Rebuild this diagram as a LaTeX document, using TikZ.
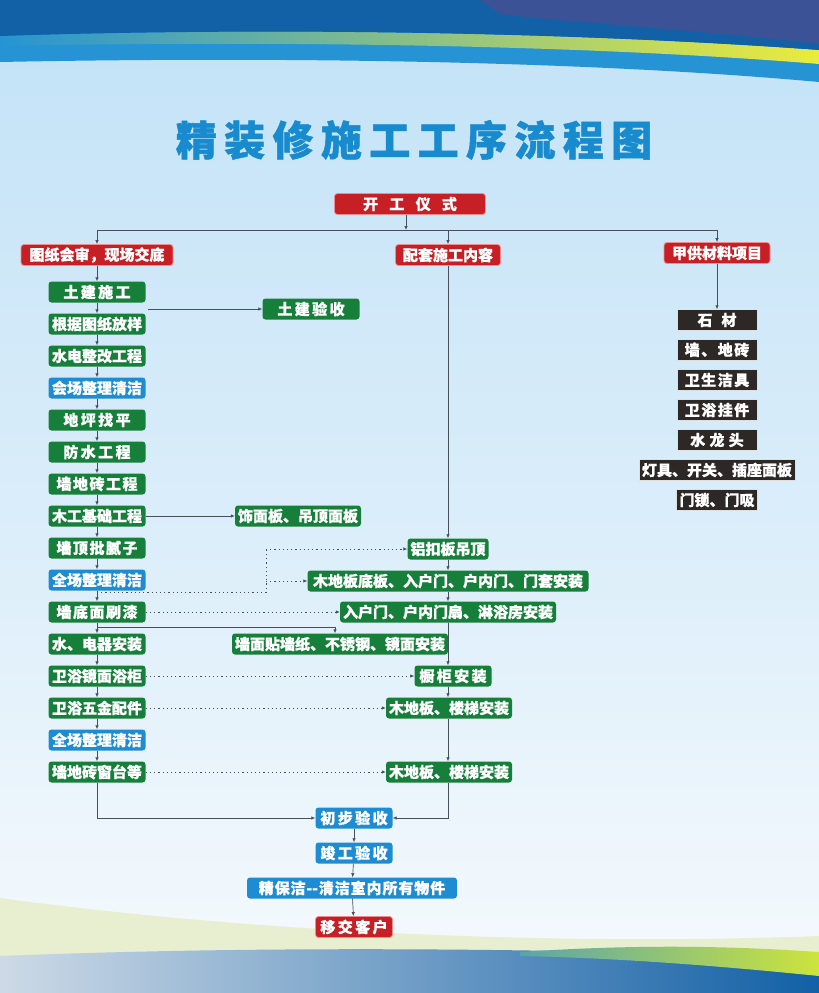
\documentclass[tikz,border=0pt]{standalone}
\usepackage{fontspec}
\newfontfamily\cjk{Noto Sans CJK SC}[BoldFeatures={FakeBold=0.8}]
\newfontfamily\cjktitle{Noto Sans CJK SC}[BoldFeatures={FakeBold=1.2}]
\usepackage{tikz}
\usetikzlibrary{arrows.meta, positioning}

\definecolor{bgblue}{RGB}{194,226,247}
\definecolor{bgwhite}{RGB}{246,250,253}
\definecolor{bandblue}{RGB}{38,148,212}
\definecolor{darkband}{RGB}{18,96,166}
\definecolor{violetband}{RGB}{60,82,150}
\definecolor{stripeteal}{RGB}{60,180,175}
\definecolor{stripeyellow}{RGB}{235,235,60}
\definecolor{bottomgray}{RGB}{205,218,230}
\definecolor{bottomteal}{RGB}{90,165,170}
\definecolor{bottomlime}{RGB}{205,228,60}
\definecolor{titleblue}{RGB}{24,138,206}
\definecolor{boxred}{RGB}{198,32,38}
\definecolor{boxpink}{RGB}{238,140,140}
\definecolor{boxgreen}{RGB}{22,128,58}
\definecolor{boxblue}{RGB}{30,140,210}
\definecolor{boxdark}{RGB}{45,40,38}
\definecolor{linegray}{RGB}{70,80,90}
\definecolor{swoosh}{RGB}{232,238,208}

\begin{document}
\begin{tikzpicture}[x=1pt, y=-1pt,
  every node/.style={font=\cjk\bfseries\fontsize{15}{16}\selectfont},
  base/.style={rounded corners=3pt, minimum height=21pt, inner xsep=3pt, inner ysep=0pt, text=white},
  redbox/.style={base, fill=boxred, draw=boxpink, line width=0.8pt},
  greenbox/.style={base, fill=boxgreen},
  bluebox/.style={base, fill=boxblue},
  darkbox/.style={base, rounded corners=0pt, fill=boxdark, draw=white!75!gray, line width=0.5pt, minimum width=80pt},
  wide/.style={execute at begin node={\addfontfeature{LetterSpace=#1}}},
  wide/.default=16,
  gwide/.style={greenbox, wide},
  gmid/.style={greenbox, wide=10},
  dwide/.style={darkbox, wide=10},
  dstone/.style={darkbox, wide=60},
  dtap/.style={darkbox, wide=28},
  line/.style={draw=linegray, line width=0.7pt},
  link/.style={line, -{Latex[length=4pt,width=3.5pt]}},
  dotlink/.style={link, dash pattern=on 1.2pt off 3pt}]

  % ---------- background ----------
  \useasboundingbox (0,0) rectangle (819,993);
  \shade[top color=bgblue, bottom color=bgwhite, middle color=bgblue!55!bgwhite] (0,0) rectangle (819,993);
  \fill[bandblue] (0,0) -- (819,0) -- (819,82) .. controls (600,62) and (300,56) .. (0,62) -- cycle;
  \shade[left color=bandblue, middle color=stripeteal, right color=stripeyellow]
    (0,36) .. controls (300,26) and (600,34) .. (819,50) -- (819,64) .. controls (600,46) and (300,40) .. (0,46) -- cycle;
  \fill[darkband] (0,0) -- (819,0) -- (819,50) .. controls (600,34) and (300,26) .. (0,36) -- cycle;
  \fill[violetband] (480,0) -- (819,0) -- (819,44) .. controls (700,30) and (560,22) .. (500,14) -- cycle;
  \fill[swoosh] (0,898) .. controls (250,932) and (550,946) .. (819,936) -- (819,993) -- (0,993) -- cycle;
  \shade[left color=bottomgray, right color=darkband]
    (0,956) .. controls (300,944) and (600,950) .. (819,958) -- (819,993) -- (0,993) -- cycle;
  \shade[left color=bottomteal, right color=bottomlime]
    (520,952) .. controls (640,944) and (730,946) .. (819,952) -- (819,976) .. controls (720,966) and (620,958) .. (520,956) -- cycle;

  % ---------- title ----------
  \node[text=titleblue, font=\cjktitle\bfseries\fontsize{41}{44}\selectfont, wide=18] (title) at (414,140) {精装修施工工序流程图};

  % ---------- top ----------
  \node[redbox, minimum width=151pt, wide=75] (kg) at (410,204) {开工仪式};
  \node[redbox, minimum width=152pt] (tzhs) at (97,255) {图纸会审，现场交底};
  \node[redbox, minimum width=105pt] (ptnr) at (448,255) {配套施工内容};
  \node[redbox, minimum width=106pt] (jgcl) at (717,253) {甲供材料项目};
  \coordinate (top) at (406,230);
  \draw[link] (kg.south -| top) -- (top);
  \draw[line] (tzhs.north |- top) -- (jgcl.north |- top);
  \foreach \n in {tzhs,ptnr,jgcl}
    \draw[link] (\n.north |- top) -- (\n);

  % ---------- left column ----------
  \foreach \i/\txt/\sty in {1/土建施工/gwide, 2/根据图纸放样/greenbox, 3/水电整改工程/greenbox,
      4/会场整理清洁/bluebox, 5/地坪找平/gwide, 6/防水工程/gwide, 7/墙地砖工程/gmid,
      8/木工基础工程/greenbox, 9/墙顶批腻子/gmid, 10/全场整理清洁/bluebox, 11/墙底面刷漆/gmid,
      12/水、电器安装/greenbox, 13/卫浴镜面浴柜/greenbox, 14/卫浴五金配件/greenbox,
      15/全场整理清洁/bluebox, 16/墙地砖窗台等/greenbox}
    \node[\sty, minimum width=97pt] (l\i) at (97,260+32*\i) {\txt};
  \foreach \i [evaluate=\i as \j using int(\i+1)] in {1,...,15}
    \draw[link] (l\i) -- (l\j);
  \draw[link] (tzhs) -- (l1);

  % ---------- side branches ----------
  \node[gwide, minimum width=97pt] (tjys) at (311,309) {土建验收};
  \node[greenbox, minimum width=124pt] (smb) at (298,516) {饰面板、吊顶面板};
  \coordinate (c1) at (148,309);
  \draw[link] (c1) -- (tjys);
  \draw[link] (l8) -- (smb);

  % ---------- middle column ----------
  \node[greenbox, minimum width=77pt] (lkb) at (448,549) {铝扣板吊顶};
  \node[greenbox, minimum width=281pt] (mdb) at (448,581) {木地板底板、入户门、户内门、门套安装};
  \node[greenbox, minimum width=209pt] (rhm) at (448,612) {入户门、户内门扇、淋浴房安装};
  \node[greenbox, minimum width=209pt] (qmt) at (340,644) {墙面贴墙纸、不锈钢、镜面安装};
  \node[gwide, minimum width=77pt] (cg) at (453,676) {橱柜安装};
  \node[greenbox, minimum width=123pt] (md1) at (449,708) {木地板、楼梯安装};
  \node[greenbox, minimum width=123pt] (md2) at (449,772) {木地板、楼梯安装};
  \draw[link] (ptnr) -- (lkb);
  \draw[link] (lkb) -- (mdb);
  \draw[link] (mdb) -- (rhm);
  \draw[link] (rhm) -- (rhm |- cg.north);
  \draw[link] (cg.south -| rhm) -- (md1.north -| rhm);
  \draw[link] (md1.south -| rhm) -- (md2.north -| rhm);
  \coordinate (c3) at (97,627);
  \draw[link] (c3) -| ([xshift=-5pt]qmt.north);

  % dotted links
  \coordinate (d0) at (97,592);
  \coordinate (d1) at (266,549);
  \coordinate (d2) at (266,581);
  \draw[line, dash pattern=on 1.2pt off 3pt] (d0) -| (d1);
  \draw[dotlink] (d1) -- (lkb);
  \draw[dotlink] (d2) -- (mdb);
  \draw[dotlink] (l11) -- (rhm);
  \draw[dotlink] (l13) -- (cg);
  \draw[dotlink] (l14) -- (md1);
  \draw[dotlink] (l16) -- (md2);

  % ---------- right column ----------
  \foreach \i/\txt/\sty in {1/石材/dstone, 2/墙、地砖/dwide, 3/卫生洁具/dwide, 4/卫浴挂件/dwide,
      5/水龙头/dtap, 6/灯具、开关、插座面板/darkbox, 7/门锁、门吸/darkbox}
    \node[\sty] (r\i) at (717,290+30*\i) {\txt};
  \draw[link] (jgcl) -- (r1);

  % ---------- bottom ----------
  \node[bluebox, wide, minimum width=77pt] (cbys) at (354,818) {初步验收};
  \node[bluebox, wide, minimum width=77pt] (jgys) at (354,853) {竣工验收};
  \node[bluebox, wide=6, minimum width=210pt] (bj) at (352,888) {精保洁-\kern0pt-清洁室内所有物件};
  \node[redbox, wide, minimum width=77pt] (yjkh) at (354,927) {移交客户};
  \draw[link] (l16) |- (cbys);
  \draw[link] (md2.south -| rhm) |- (cbys);
  \draw[link] (cbys) -- (jgys);
  \draw[link] (jgys) -- (bj);
  \draw[link] (bj) -- (yjkh);
\end{tikzpicture}
\end{document}
